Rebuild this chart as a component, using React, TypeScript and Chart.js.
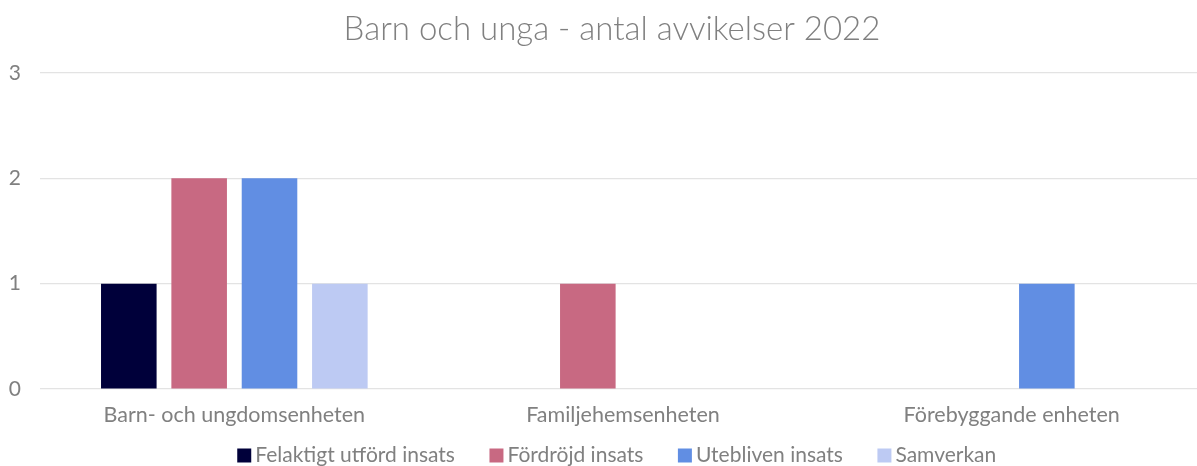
import React, { useEffect, useRef } from "react";
import { Chart, registerables } from "chart.js";

Chart.register(...registerables);

const TITLE = "Barn och unga - antal avvikelser 2022";
const categories = ["Barn- och ungdomsenheten", "Familjehemsenheten", "Förebyggande enheten"];
const seriesNames = ["Felaktigt utförd insats", "Fördröjd insats", "Utebliven insats", "Samverkan"];
const felaktigt = [1, 0, 0];
const fordrojd = [2, 1, 0];
const utebliven = [2, 0, 1];
const samverkan = [1, 0, 0];
const seriesColors = ["#00003A", "#C86982", "#618EE3", "#BDCAF3"];
const yTicks = [0, 1, 2, 3];

const FONT = "Lato, 'Open Sans', sans-serif";
const TEXT = "#808080";

const shiftPlugin = {
  id: "shiftBoxes",
  afterLayout(chart: any) {
    const t = chart.titleBlock;
    if (t) {
      t.left += 9;
      t.right += 9;
    }
    const l = chart.legend;
    if (l) {
      l.left += 17;
      l.right += 17;
      l.top = 404;
      l.bottom = chart.height;
      l.height = l.bottom - l.top;
    }
  },
};

export default function App() {
  const ref = useRef<HTMLCanvasElement | null>(null);
  useEffect(() => {
    if (!ref.current) return;
    const values = [felaktigt, fordrojd, utebliven, samverkan];
    const chart = new Chart(ref.current, {
      type: "bar",
      data: {
        labels: categories,
        datasets: seriesNames.map((name, i) => ({
          label: name,
          data: values[i],
          backgroundColor: seriesColors[i],
          borderWidth: 0,
          categoryPercentage: 0.724,
          barPercentage: 0.79,
        })),
      },
      options: {
        animation: false,
        responsive: false,
        layout: { padding: { left: 0, right: 0, top: 0, bottom: 0 } },
        plugins: {
          title: {
            display: true,
            text: TITLE,
            color: TEXT,
            font: { family: FONT, size: 33, weight: 300 },
            padding: { top: 10, bottom: 23.4 },
          },
          legend: {
            position: "bottom",
            maxHeight: 25,
            labels: {
              color: TEXT,
              font: { family: FONT, size: 21 },
              usePointStyle: true,
              pointStyle: "rect",
              boxWidth: 1,
              boxHeight: 14,
              padding: 41,
            },
          },
          tooltip: { enabled: false },
        },
        scales: {
          x: {
            grid: { display: false, drawTicks: false },
            border: { display: false },
            ticks: {
              color: TEXT,
              font: { family: FONT, size: 21.5 },
              padding: 13.1,
              maxRotation: 0,
            },
          },
          y: {
            min: 0,
            max: 3,
            afterBuildTicks(scale: any) {
              scale.ticks = yTicks.map((v) => ({ value: v }));
            },
            grid: { color: "#E3E3E3", lineWidth: 1.2, drawTicks: false },
            border: { display: false },
            ticks: {
              color: TEXT,
              font: { family: FONT, size: 21 },
              padding: 19,
            },
            afterFit(scale: any) {
              scale.width = 40;
            },
          },
        },
      },
      plugins: [shiftPlugin],
    });
    return () => chart.destroy();
  }, []);

  return (
    <div
      style={{
        position: "fixed",
        left: 0,
        top: 0,
        width: 1197,
        height: 466,
        overflow: "hidden",
        background: "#fff",
      }}
    >
      <canvas ref={ref} width={1206} height={466} style={{ display: "block" }} />
    </div>
  );
}
